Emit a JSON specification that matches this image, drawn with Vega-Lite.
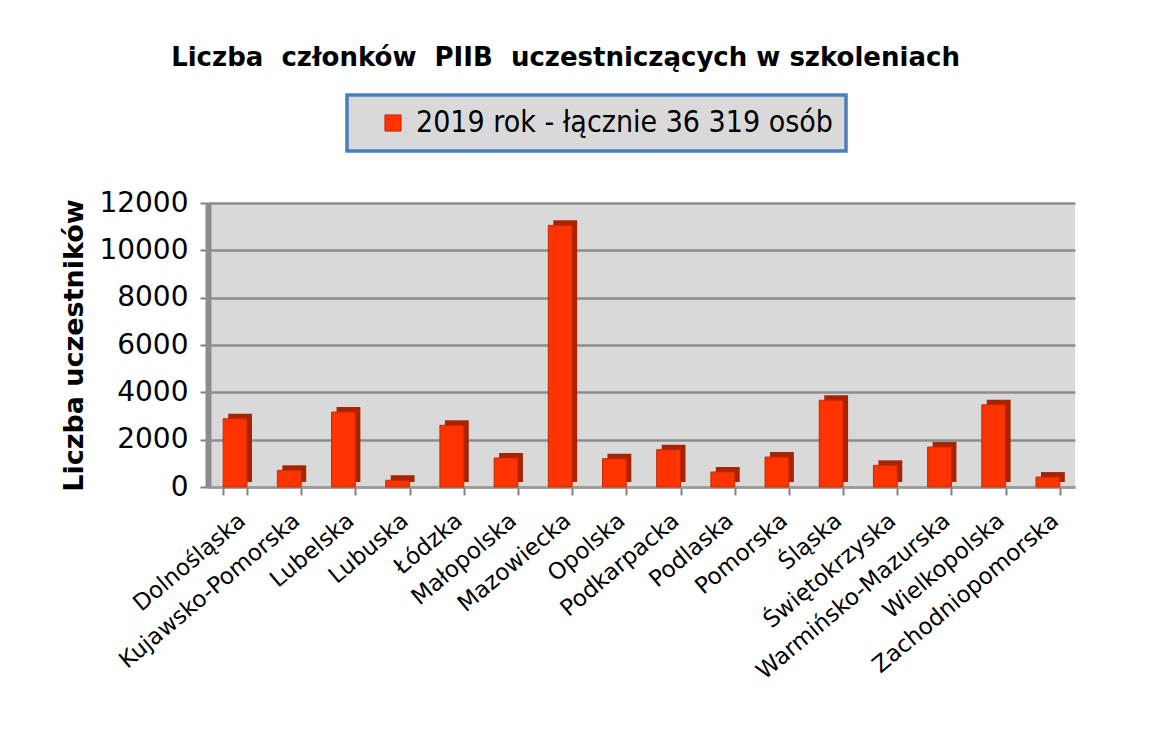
{
  "$schema": "https://vega.github.io/schema/vega-lite/v6.json",
  "width": 867,
  "height": 284,
  "autosize": {"type": "none"},
  "padding": {"left": 208, "top": 203, "right": 92, "bottom": 248},
  "background": "white",
  "title": {
    "text": "Liczba\u00a0 członków\u00a0 PIIB\u00a0 uczestniczących w szkoleniach",
    "font": "DejaVu Sans",
    "fontSize": 26,
    "fontWeight": "bold",
    "color": "black",
    "anchor": "middle",
    "dx": -76,
    "offset": 22
  },
  "data": {
    "values": [
      {"region": "Dolnośląska", "value": 2885, "series": "2019 rok - łącznie 36 319 osób"},
      {"region": "Kujawsko-Pomorska", "value": 705, "series": "2019 rok - łącznie 36 319 osób"},
      {"region": "Lubelska", "value": 3165, "series": "2019 rok - łącznie 36 319 osób"},
      {"region": "Lubuska", "value": 285, "series": "2019 rok - łącznie 36 319 osób"},
      {"region": "Łódzka", "value": 2605, "series": "2019 rok - łącznie 36 319 osób"},
      {"region": "Małopolska", "value": 1225, "series": "2019 rok - łącznie 36 319 osób"},
      {"region": "Mazowiecka", "value": 11055, "series": "2019 rok - łącznie 36 319 osób"},
      {"region": "Opolska", "value": 1195, "series": "2019 rok - łącznie 36 319 osób"},
      {"region": "Podkarpacka", "value": 1575, "series": "2019 rok - łącznie 36 319 osób"},
      {"region": "Podlaska", "value": 635, "series": "2019 rok - łącznie 36 319 osób"},
      {"region": "Pomorska", "value": 1265, "series": "2019 rok - łącznie 36 319 osób"},
      {"region": "Śląska", "value": 3665, "series": "2019 rok - łącznie 36 319 osób"},
      {"region": "Świętokrzyska", "value": 915, "series": "2019 rok - łącznie 36 319 osób"},
      {"region": "Warmińsko-Mazurska", "value": 1690, "series": "2019 rok - łącznie 36 319 osób"},
      {"region": "Wielkopolska", "value": 3475, "series": "2019 rok - łącznie 36 319 osób"},
      {"region": "Zachodniopomorska", "value": 420, "series": "2019 rok - łącznie 36 319 osób"}
    ]
  },
  "encoding": {
    "x": {
      "field": "region",
      "type": "nominal",
      "sort": null,
      "scale": {"paddingInner": 0.56, "paddingOuter": 0.28},
      "axis": {
        "title": null,
        "labelAngle": -40,
        "labelFont": "DejaVu Sans",
        "labelFontSize": 23,
        "labelColor": "black",
        "labelPadding": 14,
        "labelLimit": 400,
        "tickBand": "extent",
        "tickColor": "#808080",
        "tickSize": 8,
        "tickWidth": 2,
        "domainColor": "#9a9a9a",
        "domainWidth": 2,
        "grid": false
      }
    },
    "y": {
      "field": "value",
      "type": "quantitative",
      "scale": {"domain": [0, 12000]},
      "axis": {
        "title": "Liczba uczestników",
        "titleFont": "DejaVu Sans",
        "titleFontSize": 27,
        "titleFontWeight": "bold",
        "titleColor": "black",
        "titlePadding": 10,
        "values": [0, 2000, 4000, 6000, 8000, 10000, 12000],
        "format": "d",
        "labelFont": "DejaVu Sans",
        "labelFontSize": 28,
        "labelColor": "black",
        "labelPadding": 12,
        "tickColor": "#808080",
        "tickSize": 8,
        "tickWidth": 2,
        "domainColor": "#8c8c8c",
        "domainWidth": 6,
        "gridColor": "#8c8c8c",
        "gridWidth": 2.5
      }
    }
  },
  "layer": [
    {
      "mark": {"type": "bar", "color": "#a82400", "xOffset": 5, "yOffset": -5}
    },
    {
      "mark": {"type": "bar", "stroke": "#c42a00", "strokeWidth": 1},
      "encoding": {
        "color": {
          "field": "series",
          "type": "nominal",
          "scale": {"range": ["#ff3300"]},
          "legend": {
            "title": null,
            "orient": "none",
            "legendX": 139,
            "legendY": -108,
            "fillColor": "#d9d9d9",
            "strokeColor": "#4a7ebb",
            "padding": 13,
            "symbolType": "square",
            "symbolSize": 260,
            "symbolOffset": 18,
            "symbolStrokeColor": "#c42a00",
            "symbolStrokeWidth": 1,
            "labelFont": "DejaVu Sans Condensed",
            "labelFontSize": 30,
            "labelColor": "black",
            "labelLimit": 600,
            "labelOffset": 8,
            "encode": {"legend": {"update": {"strokeWidth": {"value": 3.5}}}}
          }
        }
      }
    }
  ],
  "config": {
    "view": {"fill": "#d9d9d9", "stroke": null}
  }
}
